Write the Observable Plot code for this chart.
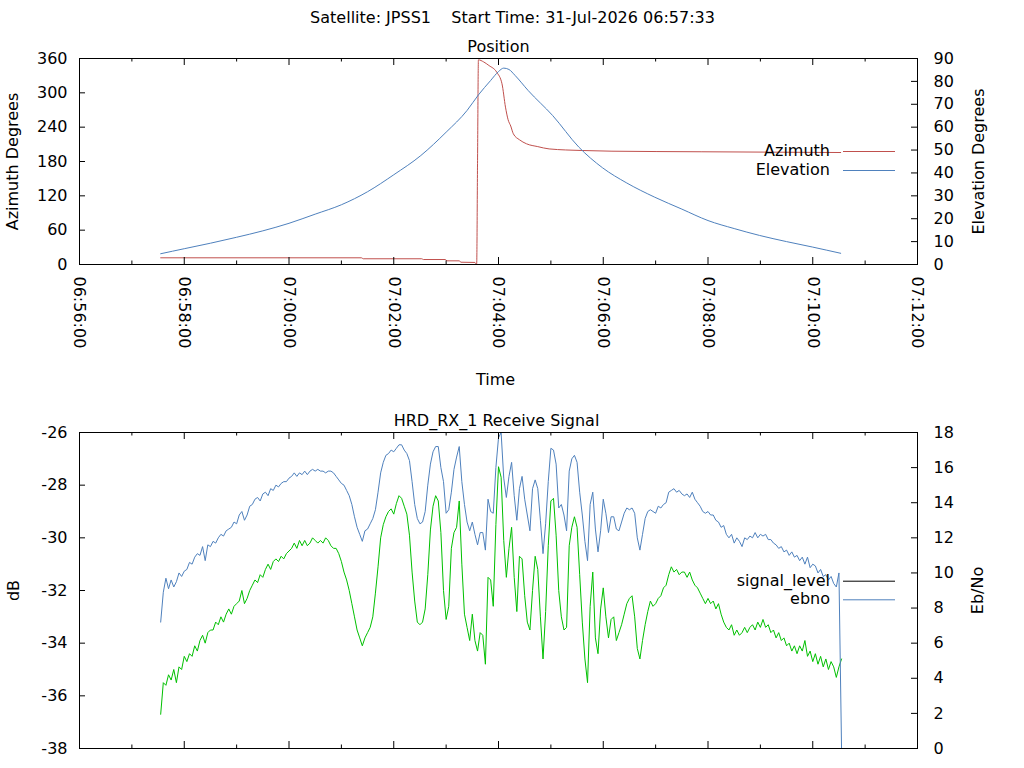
<!DOCTYPE html>
<html><head><meta charset="utf-8">
<script src="https://cdn.jsdelivr.net/npm/d3@7"></script>
<script src="https://cdn.jsdelivr.net/npm/@observablehq/plot@0.6"></script>
<style>
html,body{margin:0;padding:0;background:#fff;}
#wrap{position:relative;width:1024px;height:768px;overflow:hidden;background:#fff;}
#wrap svg{position:absolute;left:0;}
</style></head><body><div id="wrap"></div>
<script>
const DAY = "2026-07-31T";
const T = s => new Date(DAY + s + "Z");

const mainTitle = "Satellite: JPSS1\u00a0\u00a0\u00a0\u00a0Start Time: 31-Jul-2026 06:57:33";
const xDomain = ["06:56:00", "07:12:00"];
const xMajorTicks = ["06:56:00","06:58:00","07:00:00","07:02:00","07:04:00","07:06:00","07:08:00","07:10:00","07:12:00"];
const xMinorTicks = ["06:57:00","06:59:00","07:01:00","07:03:00","07:05:00","07:07:00","07:09:00","07:11:00"];
const azTicks = [0, 60, 120, 180, 240, 300, 360];
const elTicks = [0, 10, 20, 30, 40, 50, 60, 70, 80, 90];
const dbTicks = [-38, -36, -34, -32, -30, -28, -26];
const ebTicks = [0, 2, 4, 6, 8, 10, 12, 14, 16, 18];

// Position panel
const azTime = ["06:57:33","07:01:23","07:01:25","07:02:32","07:02:34","07:02:59","07:03:01","07:03:15","07:03:17","07:03:33","07:03:34","07:03:35","07:03:36","07:03:37","07:03:43","07:03:49","07:03:58","07:04:04","07:04:08","07:04:11","07:04:14","07:04:17","07:04:24","07:04:32","07:04:45","07:04:58","07:05:36","07:06:10","07:07:53","07:10:32"];
const azDeg = [11.7,11.7,10.0,10.0,8.7,8.7,6.4,6.4,4.0,3.6,1.4,1.2,182,357.7,354,347.8,336,315.8,275,253,242,228.4,218,211,206,202,199.2,198,197,195.7];

const elTime = ["06:57:33","06:58:00","06:58:30","06:59:00","06:59:30","07:00:00","07:00:30","07:01:00","07:01:30","07:02:00","07:02:31","07:03:00","07:03:24","07:03:37","07:03:51","07:04:00","07:04:06","07:04:12","07:04:19","07:04:34","07:05:02","07:05:32","07:05:59","07:06:27","07:06:59","07:07:30","07:08:00","07:08:30","07:08:59","07:09:30","07:10:00","07:10:32"];
const elDeg = [4.7,6.9,9.3,11.9,14.7,18.0,22.0,26.1,31.8,39.2,47.6,57.8,67.3,74.1,80.4,84.3,85.8,85.2,82.6,76.0,65.1,51.3,42.3,35.6,29.4,24.2,19.2,15.7,12.7,10.0,7.6,4.9];

// Receive signal panel (one sample every 3 s from the start time)
const sigStart = "06:57:33";
const sigStepSec = 3;
const signalLevel = [
-36.7,-35.5,-35.6,-35.2,-35.4,-35.0,-35.5,-34.9,-35.0,-34.5,
-34.7,-34.4,-34.5,-34.1,-34.3,-33.9,-33.7,-34.0,-33.6,-33.5,
-33.5,-33.2,-33.3,-33.0,-33.2,-32.9,-32.7,-32.9,-32.6,-32.5,
-32.4,-32.0,-32.5,-32.3,-32.0,-31.8,-31.6,-31.7,-31.4,-31.5,
-31.2,-31.0,-31.2,-30.9,-30.8,-30.9,-30.7,-30.8,-30.6,-30.5,
-30.4,-30.2,-30.4,-30.1,-30.3,-30.1,-30.3,-30.2,-30.0,-30.1,
-30.2,-30.1,-30.2,-30.0,-30.1,-30.3,-30.4,-30.4,-30.6,-30.9,
-31.3,-31.6,-32.0,-32.5,-33.0,-33.5,-33.8,-34.1,-33.8,-33.6,
-33.4,-33.0,-32.1,-31.1,-30.0,-29.5,-29.2,-29.0,-28.9,-29.1,
-28.7,-28.4,-28.5,-28.8,-29.1,-29.9,-31.3,-32.4,-33.2,-33.3,
-33.2,-32.7,-31.4,-29.7,-28.8,-28.4,-28.6,-29.8,-32.0,-33.1,
-32.6,-30.4,-29.8,-29.6,-28.6,-31.0,-32.9,-33.4,-33.9,-32.9,
-33.9,-34.3,-33.6,-33.7,-34.8,-31.5,-31.6,-32.6,-29.5,-27.3,
-27.7,-30.1,-31.5,-30.4,-29.6,-31.5,-32.8,-30.7,-30.8,-32.2,
-33.2,-33.5,-32.0,-30.7,-31.2,-33.0,-34.6,-32.8,-30.3,-28.6,
-28.5,-29.9,-32.0,-33.0,-33.5,-33.4,-30.3,-29.6,-29.2,-29.6,
-31.4,-33.2,-34.6,-35.5,-32.6,-31.3,-33.8,-34.4,-32.7,-31.9,
-33.0,-33.8,-33.1,-33.0,-33.9,-33.6,-33.3,-32.9,-32.5,-32.3,
-32.2,-33.0,-34.2,-34.6,-33.9,-33.3,-32.8,-32.4,-32.6,-32.5,
-32.3,-32.2,-31.9,-31.8,-31.4,-31.1,-31.3,-31.2,-31.4,-31.3,
-31.3,-31.5,-31.3,-31.6,-31.8,-31.9,-32.1,-32.3,-32.5,-32.3,
-32.5,-32.4,-32.7,-32.5,-32.9,-33.2,-33.4,-33.5,-33.3,-33.7,
-33.5,-33.7,-33.6,-33.4,-33.6,-33.4,-33.3,-33.5,-33.2,-33.4,
-33.1,-33.4,-33.3,-33.6,-33.5,-33.8,-33.6,-33.9,-33.8,-34.1,
-34.0,-34.3,-34.1,-34.4,-34.1,-34.3,-33.9,-34.5,-34.3,-34.7,
-34.4,-34.8,-34.5,-34.9,-34.6,-35.0,-34.7,-34.9,-35.3,-34.9,-34.6];
const ebno = [
7.2,8.9,9.7,9.1,9.6,9.2,9.5,10.0,9.8,10.1,
10.2,10.6,10.5,10.9,11.1,11.0,11.5,10.7,11.6,11.5,
11.8,11.7,12.0,12.2,12.1,12.4,12.5,12.6,12.9,12.8,
13.3,13.5,13.0,13.3,13.8,13.9,14.2,14.3,14.1,14.5,
14.6,14.4,14.8,14.7,15.0,14.9,15.1,15.2,15.2,15.4,
15.5,15.7,15.5,15.7,15.6,15.8,15.6,15.8,15.9,15.8,
15.9,15.8,15.8,15.7,15.8,15.8,15.7,15.5,15.3,15.1,
15.0,14.7,14.4,13.9,13.2,12.6,12.2,11.8,12.4,12.5,
12.8,13.1,13.6,14.6,15.7,16.3,16.7,16.8,17.0,16.9,
17.1,17.3,17.3,17.0,16.8,16.4,15.2,13.9,13.1,12.8,
12.9,13.5,15.0,16.2,16.9,17.2,17.2,16.0,15.2,13.4,
13.6,14.6,15.9,16.6,17.2,15.2,13.9,12.9,12.4,12.9,
12.2,11.6,12.3,12.3,11.3,14.2,13.5,13.4,16.0,17.7,
18.0,15.4,14.3,15.5,16.3,14.4,13.0,14.8,15.5,14.2,
13.3,12.4,14.8,15.3,14.8,13.0,11.1,12.8,15.2,17.1,
17.0,16.2,13.7,13.9,13.3,12.4,15.8,16.5,16.7,16.3,
14.6,13.3,11.8,10.7,13.9,14.6,12.5,11.2,12.4,14.2,
13.4,12.3,13.2,13.2,12.5,12.4,12.9,13.4,13.7,13.6,
13.7,13.4,12.0,11.3,12.2,13.1,13.5,13.6,13.5,13.4,
13.8,13.7,13.9,14.0,14.6,14.7,14.8,14.6,14.7,14.5,
14.4,14.5,14.3,14.6,14.2,14.0,13.8,13.5,13.4,13.5,
13.3,13.3,13.0,12.9,12.6,12.7,12.2,12.0,12.2,11.7,
12.0,11.8,11.5,12.0,11.9,12.1,12.0,12.3,12.0,12.2,
12.1,12.2,11.9,11.9,11.7,11.6,11.4,11.5,11.2,11.3,
11.0,11.2,10.9,11.0,10.7,10.9,10.5,10.9,10.3,10.5,
10.4,10.0,10.2,9.8,9.9,9.6,9.8,9.4,9.2,10.0,0];

const posLegend = {labels: ["Azimuth", "Elevation"], colors: ["#c0504d", "#4f81bd"]};
const sigLegend = {labels: ["signal_level", "ebno"], colors: ["#000000", "#4f81bd"]};
const sigColor = "#00c000";

// dual-axis mappings onto the left scale
const elToAz = e => e * 4;            // 0..90 -> 0..360
const azToEl = a => String(Math.round(a / 4));
const ebToDb = e => -38 + e / 1.5;    // 0..18 -> -38..-26
const dbToEb = d => String(Math.round((d + 38) * 1.5));
const hyphen = d => String(d);        // ASCII hyphen-minus like the reference

const azData = azTime.map((t, i) => ({time: T(t), v: azDeg[i]}));
const elData = elTime.map((t, i) => ({time: T(t), v: elDeg[i]}));
const t0 = T(sigStart).getTime();
const sigData = signalLevel.map((v, i) => ({time: new Date(t0 + i * sigStepSec * 1000), sig: v, eb: ebno[i]}));

const font = {fontFamily: "'DejaVu Sans', sans-serif", fontSize: "16px", color: "black", background: "white", overflow: "visible"};

function keyMark(leg, offsets) {
  return (index, scales, values, dims) => {
    const right = dims.width - dims.marginRight;
    const y0 = dims.marginTop;
    const g = d3.create("svg:g");
    leg.labels.forEach((lab, i) => {
      const y = y0 + offsets[i];
      g.append("text").attr("x", right - 87).attr("y", y).attr("dy", "0.32em")
        .attr("text-anchor", "end").attr("fill", "black").text(lab);
      g.append("line").attr("x1", right - 74).attr("x2", right - 22)
        .attr("y1", y + 0.5).attr("y2", y + 0.5).attr("stroke", leg.colors[i]).attr("stroke-width", 1);
    });
    return g.node();
  };
}

function tickMarks(fh, fw, yLeft, yRight) {
  return [
    Plot.ruleX(xMajorTicks, {x: d => T(d), insetTop: fh - 7, stroke: "black"}),
    Plot.ruleX(xMajorTicks, {x: d => T(d), insetBottom: fh - 7, stroke: "black"}),
    Plot.ruleX(xMinorTicks, {x: d => T(d), insetTop: fh - 3.5, stroke: "black"}),
    Plot.ruleX(xMinorTicks, {x: d => T(d), insetBottom: fh - 3.5, stroke: "black"}),
    Plot.ruleY(yLeft, {y: d => d, insetRight: fw - 6, stroke: "black"}),
    Plot.ruleY(yRight, {y: d => d, insetLeft: fw - 6, stroke: "black"})
  ];
}

const ctr = {textAnchor: "middle", lineAnchor: "middle", text: d => d, fill: "black"};

const posPlot = Plot.plot({
  width: 1024, height: 400,
  marginLeft: 79, marginRight: 107, marginTop: 58, marginBottom: 136,
  x: {type: "utc", domain: xDomain.map(T), axis: null},
  y: {domain: [0, 360], axis: null},
  style: font,
  marks: [
    Plot.line(azData, {x: "time", y: "v", stroke: posLegend.colors[0], strokeWidth: 1, curve: "monotone-x"}),
    Plot.line(elData, {x: "time", y: d => elToAz(d.v), stroke: posLegend.colors[1], strokeWidth: 1, curve: "monotone-x"}),
    Plot.frame({stroke: "black", strokeWidth: 1}),
    ...tickMarks(206, 838, azTicks, elTicks.map(elToAz)),
    Plot.axisY({ticks: azTicks, tickFormat: hyphen, tickSize: 0, tickPadding: 12, label: null}),
    Plot.axisY({anchor: "right", ticks: elTicks.map(elToAz), tickFormat: azToEl, tickSize: 0, tickPadding: 16, label: null}),
    Plot.axisX({ticks: xMajorTicks.map(T), tickFormat: d3.utcFormat("%H:%M:%S"), tickRotate: 90, tickSize: 0, tickPadding: 12, label: null}),
    Plot.text([mainTitle], {...ctr, frameAnchor: "top", dx: 14, dy: -41}),
    Plot.text(["Position"], {...ctr, frameAnchor: "top", dy: -12}),
    Plot.text(["Azimuth Degrees"], {...ctr, frameAnchor: "left", dx: -66.5, rotate: -90}),
    Plot.text(["Elevation Degrees"], {...ctr, frameAnchor: "right", dx: 61.5, rotate: -90}),
    Plot.text(["Time"], {...ctr, frameAnchor: "bottom", dx: -3, dy: 115}),
    keyMark(posLegend, [93, 112])
  ]
});
posPlot.style.top = "0px";

const sigPlot = Plot.plot({
  width: 1024, height: 368,
  marginLeft: 79, marginRight: 107, marginTop: 32, marginBottom: 20,
  x: {type: "utc", domain: xDomain.map(T), axis: null},
  y: {domain: [-38, -26], axis: null},
  style: font,
  marks: [
    Plot.line(sigData, {x: "time", y: "sig", stroke: sigColor, strokeWidth: 1}),
    Plot.line(sigData, {x: "time", y: d => ebToDb(d.eb), stroke: sigLegend.colors[1], strokeWidth: 1}),
    Plot.frame({stroke: "black", strokeWidth: 1}),
    ...tickMarks(316, 838, dbTicks, ebTicks.map(ebToDb)),
    Plot.axisY({ticks: dbTicks, tickFormat: hyphen, tickSize: 0, tickPadding: 12, label: null}),
    Plot.axisY({anchor: "right", ticks: ebTicks.map(ebToDb), tickFormat: dbToEb, tickSize: 0, tickPadding: 16, label: null}),
    Plot.text(["HRD_RX_1 Receive Signal"], {...ctr, frameAnchor: "top", dx: -2, dy: -11.7}),
    Plot.text(["dB"], {...ctr, frameAnchor: "left", dx: -66, rotate: -90}),
    Plot.text(["Eb/No"], {...ctr, frameAnchor: "right", dx: 60, rotate: -90}),
    keyMark(sigLegend, [148.7, 167.3])
  ]
});
sigPlot.style.top = "400px";

const wrap = document.getElementById("wrap");
wrap.appendChild(posPlot);
wrap.appendChild(sigPlot);
</script></body></html>
